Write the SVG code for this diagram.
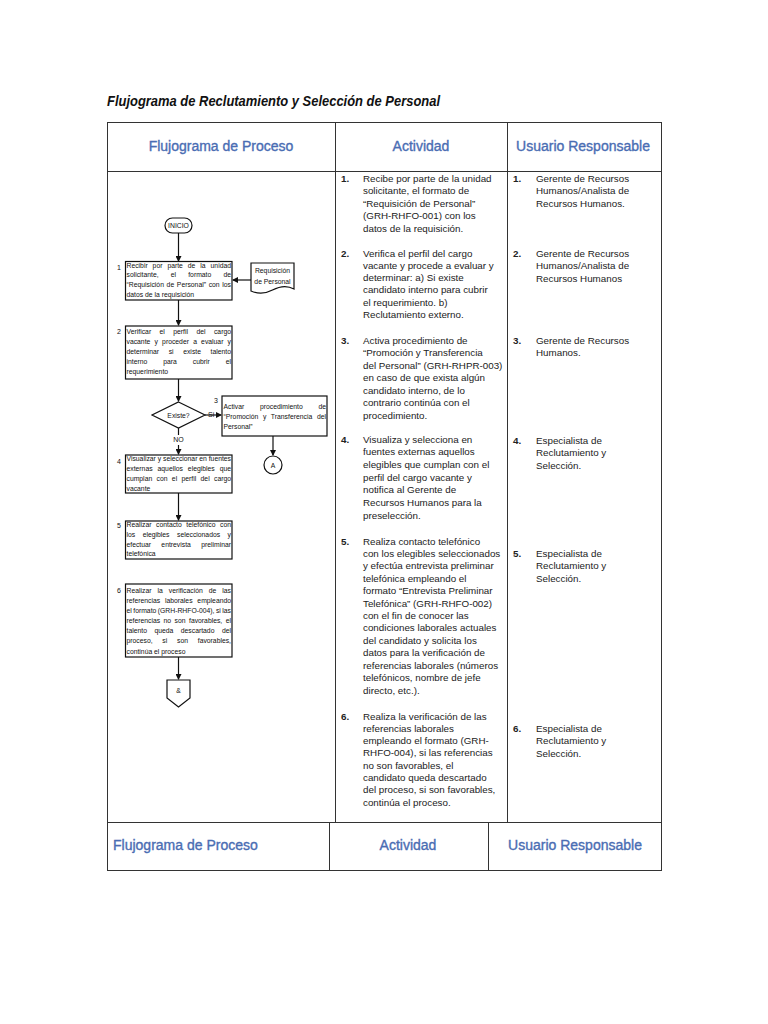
<svg xmlns="http://www.w3.org/2000/svg" width="768" height="1024" viewBox="0 0 768 1024">
<style>
.ln{stroke:#333;stroke-width:1;fill:none}
.hd{font-family:"Liberation Sans",Arial,sans-serif;font-size:14px;fill:#4a6db3;stroke:#4a6db3;stroke-width:0.35}
.bt{font-family:"Liberation Sans",Arial,sans-serif;font-size:9.8px;fill:#222}
.bn{font-weight:bold}
.fb{fill:#fff;stroke:#111;stroke-width:1.2}
.ft{font-family:"Liberation Sans",Arial,sans-serif;font-size:6.8px;fill:#111}
.fc{stroke:#111;stroke-width:1.2;fill:none}
.num{font-family:"Liberation Sans",Arial,sans-serif;font-size:7px;fill:#111}
</style>
<defs>
<marker id="ah" markerWidth="6" markerHeight="6" refX="5" refY="3" orient="auto" markerUnits="userSpaceOnUse">
<path d="M0,0 L6,3 L0,6 Z" fill="#111"/>
</marker>
</defs>
<rect width="768" height="1024" fill="#fff"/>
<text x="107" y="106" font-family="Liberation Sans,Arial,sans-serif" font-size="14" font-style="italic" font-weight="bold" fill="#111" textLength="333" lengthAdjust="spacingAndGlyphs">Flujograma de Reclutamiento y Selección de Personal</text>

<g id="table-top">
<rect class="ln" x="107.5" y="122.5" width="554" height="700"/>
<line class="ln" x1="107" y1="171.5" x2="661" y2="171.5"/>
<line class="ln" x1="335.5" y1="122" x2="335.5" y2="822"/>
<line class="ln" x1="507.5" y1="122" x2="507.5" y2="822"/>
<text class="hd" x="221" y="151" text-anchor="middle">Flujograma de Proceso</text>
<text class="hd" x="421" y="151" text-anchor="middle">Actividad</text>
<text class="hd" x="583" y="151" text-anchor="middle">Usuario Responsable</text>
</g>

<g id="table-bottom">
<rect class="ln" x="107.5" y="822.5" width="554" height="48"/>
<line class="ln" x1="329.5" y1="822" x2="329.5" y2="870"/>
<line class="ln" x1="488.5" y1="822" x2="488.5" y2="870"/>
<text class="hd" x="113" y="850">Flujograma de Proceso</text>
<text class="hd" x="408" y="850" text-anchor="middle">Actividad</text>
<text class="hd" x="575" y="850" text-anchor="middle">Usuario Responsable</text>
</g>

<g id="actividad">
<text class="bt"><tspan class="bn" x="341" y="181.5">1.</tspan>
<tspan x="363" y="181.5">Recibe por parte de la unidad</tspan><tspan x="363" y="194">solicitante, el formato de</tspan><tspan x="363" y="206.5">“Requisición de Personal”</tspan><tspan x="363" y="219">(GRH-RHFO-001) con los</tspan><tspan x="363" y="231.5">datos de la requisición.</tspan></text>
<text class="bt"><tspan class="bn" x="341" y="256.5">2.</tspan>
<tspan x="363" y="256.5">Verifica el perfil del cargo</tspan><tspan x="363" y="268.75">vacante y procede a evaluar y</tspan><tspan x="363" y="281">determinar: a) Si existe</tspan><tspan x="363" y="293.25">candidato interno para cubrir</tspan><tspan x="363" y="305.5">el requerimiento. b)</tspan><tspan x="363" y="317.75">Reclutamiento externo.</tspan></text>
<text class="bt"><tspan class="bn" x="341" y="343.5">3.</tspan>
<tspan x="363" y="343.5">Activa procedimiento de</tspan><tspan x="363" y="356">“Promoción y Transferencia</tspan><tspan x="363" y="368.5">del Personal” (GRH-RHPR-003)</tspan><tspan x="363" y="381">en caso de que exista algún</tspan><tspan x="363" y="393.5">candidato interno, de lo</tspan><tspan x="363" y="406">contrario continúa con el</tspan><tspan x="363" y="418.5">procedimiento.</tspan></text>
<text class="bt"><tspan class="bn" x="341" y="442.5">4.</tspan>
<tspan x="363" y="442.5">Visualiza y selecciona en</tspan><tspan x="363" y="455.2">fuentes externas aquellos</tspan><tspan x="363" y="467.9">elegibles que cumplan con el</tspan><tspan x="363" y="480.6">perfil del cargo vacante y</tspan><tspan x="363" y="493.3">notifica al Gerente de</tspan><tspan x="363" y="506">Recursos Humanos para la</tspan><tspan x="363" y="518.7">preselección.</tspan></text>
<text class="bt"><tspan class="bn" x="341" y="544.5">5.</tspan>
<tspan x="363" y="544.5">Realiza contacto telefónico</tspan><tspan x="363" y="556.9">con los elegibles seleccionados</tspan><tspan x="363" y="569.3">y efectúa entrevista preliminar</tspan><tspan x="363" y="581.8">telefónica empleando el</tspan><tspan x="363" y="594.2">formato “Entrevista Preliminar</tspan><tspan x="363" y="606.6">Telefónica” (GRH-RHFO-002)</tspan><tspan x="363" y="619">con el fin de conocer las</tspan><tspan x="363" y="631.4">condiciones laborales actuales</tspan><tspan x="363" y="643.8">del candidato y solicita los</tspan><tspan x="363" y="656.3">datos para la verificación de</tspan><tspan x="363" y="668.7">referencias laborales (números</tspan><tspan x="363" y="681.1">telefónicos, nombre de jefe</tspan><tspan x="363" y="693.5">directo, etc.).</tspan></text>
<text class="bt"><tspan class="bn" x="341" y="719.5">6.</tspan>
<tspan x="363" y="719.5">Realiza la verificación de las</tspan><tspan x="363" y="731.8">referencias laborales</tspan><tspan x="363" y="744.1">empleando el formato (GRH-</tspan><tspan x="363" y="756.4">RHFO-004), si las referencias</tspan><tspan x="363" y="768.7">no son favorables, el</tspan><tspan x="363" y="781">candidato queda descartado</tspan><tspan x="363" y="793.2">del proceso, si son favorables,</tspan><tspan x="363" y="805.5">continúa el proceso.</tspan></text>
</g>

<g id="usuario">
<text class="bt"><tspan class="bn" x="513" y="181.5">1.</tspan><tspan x="536" y="181.5">Gerente de Recursos</tspan><tspan x="536" y="194">Humanos/Analista de</tspan><tspan x="536" y="206.5">Recursos Humanos.</tspan></text>
<text class="bt"><tspan class="bn" x="513" y="256.5">2.</tspan><tspan x="536" y="256.5">Gerente de Recursos</tspan><tspan x="536" y="269">Humanos/Analista de</tspan><tspan x="536" y="281.5">Recursos Humanos</tspan></text>
<text class="bt"><tspan class="bn" x="513" y="343.5">3.</tspan><tspan x="536" y="343.5">Gerente de Recursos</tspan><tspan x="536" y="356">Humanos.</tspan></text>
<text class="bt"><tspan class="bn" x="513" y="443.5">4.</tspan><tspan x="536" y="443.5">Especialista de</tspan><tspan x="536" y="456">Reclutamiento y</tspan><tspan x="536" y="468.5">Selección.</tspan></text>
<text class="bt"><tspan class="bn" x="513" y="556.5">5.</tspan><tspan x="536" y="556.5">Especialista de</tspan><tspan x="536" y="569">Reclutamiento y</tspan><tspan x="536" y="581.5">Selección.</tspan></text>
<text class="bt"><tspan class="bn" x="513" y="731.5">6.</tspan><tspan x="536" y="731.5">Especialista de</tspan><tspan x="536" y="744">Reclutamiento y</tspan><tspan x="536" y="756.5">Selección.</tspan></text>
</g>

<g id="connectors">
<line class="fc" x1="178.5" y1="233" x2="178.5" y2="261" marker-end="url(#ah)"/>
<line class="fc" x1="251" y1="280" x2="233" y2="280" marker-end="url(#ah)"/>
<line class="fc" x1="178.5" y1="300" x2="178.5" y2="325" marker-end="url(#ah)"/>
<line class="fc" x1="178.5" y1="379" x2="178.5" y2="401" marker-end="url(#ah)"/>
<line class="fc" x1="205" y1="415" x2="221" y2="415" marker-end="url(#ah)"/>
<line class="fc" x1="178.5" y1="428" x2="178.5" y2="435"/>
<line class="fc" x1="178.5" y1="445" x2="178.5" y2="454" marker-end="url(#ah)"/>
<line class="fc" x1="273" y1="436" x2="273" y2="455" marker-end="url(#ah)"/>
<line class="fc" x1="178.5" y1="493" x2="178.5" y2="520" marker-end="url(#ah)"/>
<line class="fc" x1="178.5" y1="657" x2="178.5" y2="679" marker-end="url(#ah)"/>
<text class="num" x="178.5" y="442" text-anchor="middle" font-size="6.5">NO</text>
<text class="num" x="208" y="417" font-size="6.5">Si</text>
</g>

<g id="inicio">
<rect class="fb" x="165" y="218" width="27" height="15" rx="7.5"/>
<text class="ft" x="178.5" y="228" text-anchor="middle" font-size="6">INICIO</text>
</g>

<g id="requisicion">
<path class="fb" d="M251,263 H294 V289 C287,285 280,286 272.5,290 C265,294 258,294 251,291 Z"/>
<text class="ft" x="272.5" y="273" text-anchor="middle">Requisición</text>
<text class="ft" x="272.5" y="284" text-anchor="middle">de Personal</text>
</g>

<g id="paso1">
<rect class="fb" x="125.5" y="261.5" width="106.5" height="38.5"/>
<text class="num" x="117" y="270">1</text>
<text class="ft" x="126.5" y="267.5" word-spacing="3.06" textLength="104.5" lengthAdjust="spacing">Recibir por parte de la unidad</text>
<text class="ft" x="126.5" y="277" word-spacing="10.27" textLength="104.5" lengthAdjust="spacing">solicitante, el formato de</text>
<text class="ft" x="126.5" y="286.5" word-spacing="0.81" textLength="104.5" lengthAdjust="spacing">“Requisición de Personal” con los</text>
<text class="ft" x="126.5" y="296.5">datos de la requisición</text>
</g>

<g id="paso2">
<rect class="fb" x="125.5" y="326" width="106.5" height="53"/>
<text class="num" x="117" y="334">2</text>
<text class="ft" x="126.5" y="333.5" word-spacing="6.48" textLength="104.5" lengthAdjust="spacing">Verificar el perfil del cargo</text>
<text class="ft" x="126.5" y="343.5" word-spacing="2.31" textLength="104.5" lengthAdjust="spacing">vacante y proceder a evaluar y</text>
<text class="ft" x="126.5" y="353.5" word-spacing="7.75" textLength="104.5" lengthAdjust="spacing">determinar si existe talento</text>
<text class="ft" x="126.5" y="363.5" word-spacing="14.05" textLength="104.5" lengthAdjust="spacing">interno para cubrir el</text>
<text class="ft" x="126.5" y="373.5">requerimiento</text>
</g>

<g id="existe">
<polygon class="fb" points="178.5,402 205,415 178.5,428 152,415"/>
<text class="ft" x="178.5" y="417.5" text-anchor="middle">Existe?</text>
</g>

<g id="paso3">
<rect class="fb" x="222" y="396" width="105" height="40"/>
<text class="num" x="214" y="403">3</text>
<text class="ft" x="223.5" y="409" word-spacing="13.84" textLength="102.5" lengthAdjust="spacing">Activar procedimiento de</text>
<text class="ft" x="223.5" y="419" word-spacing="2.68" textLength="102.5" lengthAdjust="spacing">“Promoción y Transferencia del</text>
<text class="ft" x="223.5" y="429">Personal”</text>
</g>

<g id="conector-a">
<circle class="fb" cx="273" cy="465" r="9"/>
<text class="ft" x="273" y="467.5" text-anchor="middle">A</text>
</g>

<g id="paso4">
<rect class="fb" x="125.5" y="455" width="106.5" height="38"/>
<text class="num" x="117" y="464">4</text>
<text class="ft" x="126.5" y="460.5" word-spacing="0" textLength="104.5" lengthAdjust="spacing">Visualizar y seleccionar en fuentes</text>
<text class="ft" x="126.5" y="471" word-spacing="3.08" textLength="104.5" lengthAdjust="spacing">externas aquellos elegibles que</text>
<text class="ft" x="126.5" y="481" word-spacing="2.46" textLength="104.5" lengthAdjust="spacing">cumplan con el perfil del cargo</text>
<text class="ft" x="126.5" y="491">vacante</text>
</g>

<g id="paso5">
<rect class="fb" x="125.5" y="521" width="106.5" height="38"/>
<text class="num" x="117" y="528">5</text>
<text class="ft" x="126.5" y="526.5" word-spacing="2.71" textLength="104.5" lengthAdjust="spacing">Realizar contacto telefónico con</text>
<text class="ft" x="126.5" y="536.5" word-spacing="5.62" textLength="104.5" lengthAdjust="spacing">los elegibles seleccionados y</text>
<text class="ft" x="126.5" y="546.5" word-spacing="8.41" textLength="104.5" lengthAdjust="spacing">efectuar entrevista preliminar</text>
<text class="ft" x="126.5" y="556">telefónica</text>
</g>

<g id="paso6">
<rect class="fb" x="125.5" y="584" width="106.5" height="73"/>
<text class="num" x="117" y="593">6</text>
<text class="ft" x="126.5" y="593" word-spacing="4.11" textLength="104.5" lengthAdjust="spacing">Realizar la verificación de las</text>
<text class="ft" x="126.5" y="603" word-spacing="2.93" textLength="104.5" lengthAdjust="spacing">referencias laborales empleando</text>
<text class="ft" x="126.5" y="613" word-spacing="-0.42" textLength="104.5" lengthAdjust="spacing">el formato (GRH-RHFO-004), si las</text>
<text class="ft" x="126.5" y="623" word-spacing="1.56" textLength="104.5" lengthAdjust="spacing">referencias no son favorables, el</text>
<text class="ft" x="126.5" y="633" word-spacing="5.6" textLength="104.5" lengthAdjust="spacing">talento queda descartado del</text>
<text class="ft" x="126.5" y="643" word-spacing="7.87" textLength="104.5" lengthAdjust="spacing">proceso, si son favorables,</text>
<text class="ft" x="126.5" y="653.5">continúa el proceso</text>
</g>

<g id="conector-pagina">
<path class="fb" d="M167,680 H190 V698 L178.5,707 L167,698 Z"/>
<text class="ft" x="178.5" y="693" text-anchor="middle">&amp;</text>
</g>
</svg>
